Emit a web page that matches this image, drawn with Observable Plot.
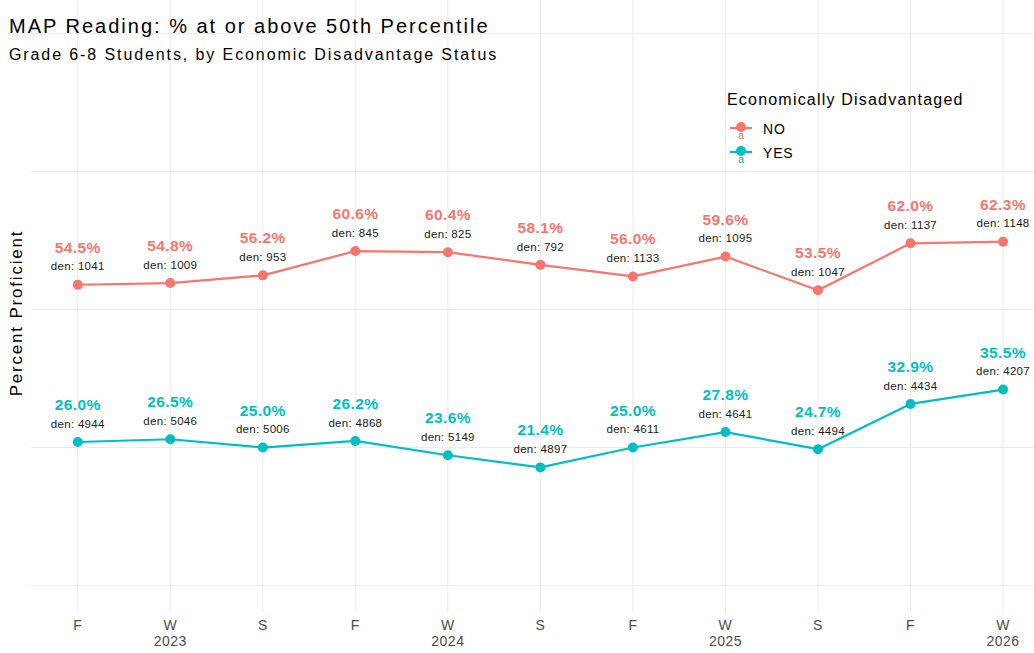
<!DOCTYPE html>
<html>
<head>
<meta charset="utf-8">
<script src="https://cdn.jsdelivr.net/npm/d3@7"></script>
<script src="https://cdn.jsdelivr.net/npm/@observablehq/plot@0.6"></script>
<style>
  body { margin: 0; background: #fff; font-family: "Liberation Sans", Arial, sans-serif; }
  #wrap { position: relative; width: 1034px; height: 653px; overflow: hidden; }
  #chart { position: absolute; left: 0; top: 0; }
  .title { position: absolute; left: 9px; top: 15px; font-size: 20px; letter-spacing: 2px; line-height: 23px; color: #000; white-space: nowrap; }
  .subtitle { position: absolute; left: 9px; top: 45px; font-size: 16px; letter-spacing: 1.9px; line-height: 19px; color: #000; white-space: nowrap; }
  .ylab { position: absolute; left: 17px; top: 313px; transform: translate(-50%, -50%) rotate(-90deg); font-size: 17px; letter-spacing: 1.8px; color: #000; white-space: nowrap; }
  .legend { position: absolute; left: 727px; top: 91px; }
  .legend .lt { font-size: 16px; letter-spacing: 1.2px; color: #000; white-space: nowrap; }
  .legend .row { position: relative; height: 24px; }
  .legend .row svg { position: absolute; left: 2px; top: 0; }
  .legend .row span { position: absolute; left: 36px; top: 5px; font-size: 14px; letter-spacing: 0.8px; color: #000; }
</style>
</head>
<body>
<div id="wrap">
  <div id="chart"></div>
  <div class="title">MAP Reading: % at or above 50th Percentile</div>
  <div class="subtitle">Grade 6-8 Students, by Economic Disadvantage Status</div>
  <div class="ylab">Percent Proficient</div>
  <div class="legend" id="legend"></div>
</div>
<script>
const terms = ["F","W","S","F","W","S","F","W","S","F","W"];
const years = ["","2023","","","2024","","","2025","","","2026"];
const groups = ["NO","YES"];
const groupColors = ["#F8766D","#00BFC4"];
const noPct  = [54.5,54.8,56.2,60.6,60.4,58.1,56.0,59.6,53.5,62.0,62.3];
const noDen  = [1041,1009,953,845,825,792,1133,1095,1047,1137,1148];
const yesPct = [26.0,26.5,25.0,26.2,23.6,21.4,25.0,27.8,24.7,32.9,35.5];
const yesDen = [4944,5046,5006,4868,5149,4897,4611,4641,4494,4434,4207];
const yTicks = [0,25,50,75,100];

const data = [];
terms.forEach((t,i) => {
  data.push({i, group:"NO", pct:noPct[i], den:noDen[i]});
  data.push({i, group:"YES", pct:yesPct[i], den:yesDen[i]});
});
const idx = terms.map((_,i)=>i);
const yearData = idx.filter(i => years[i] !== "");

const chart = Plot.plot({
  width: 1034,
  height: 653,
  marginLeft: 31,
  marginRight: 0,
  marginTop: 0,
  marginBottom: 41,
  style: {fontFamily: '"Liberation Sans", Arial, sans-serif', background: "transparent"},
  x: {type: "linear", domain: [-0.5, 10.34], axis: null, label: null},
  y: {domain: [-4.89, 106.0], axis: null, label: null},
  color: {domain: groups, range: groupColors},
  marks: [
    Plot.ruleY(yTicks, {y: d => d, stroke: "#ebebeb", strokeWidth: 1}),
    Plot.ruleX(idx, {x: d => d, stroke: "#ebebeb", strokeWidth: 1}),
    Plot.axisX({ticks: idx, tickFormat: d => terms[d], tickSize: 0, tickPadding: 8, fontSize: 14, fill: "#4d4d4d", color: "#4d4d4d", label: null}),
    Plot.text(yearData, {x: d => d, text: d => years[d], frameAnchor: "bottom", dy: 33, fontSize: 14, fill: "#4d4d4d"}),
    Plot.line(data, {x: "i", y: "pct", stroke: "group", z: "group", strokeWidth: 2.2}),
    Plot.dot(data, {x: "i", y: "pct", fill: "group", r: 5}),
    Plot.text(data, {x: "i", y: "pct", text: d => d.pct.toFixed(1) + "%", fill: "group", dy: -37, fontSize: 15.5, fontWeight: "bold"}),
    Plot.text(data, {x: "i", y: "pct", text: d => "den: " + d.den, fill: "#1a1a1a", dy: -18, fontSize: 11.5})
  ]
});
document.getElementById("chart").appendChild(chart);
chart.querySelectorAll("text").forEach(t => {
  const s = t.textContent;
  if (s.startsWith("den:")) t.style.letterSpacing = "0.3px";
  else if (/^\d{4}$/.test(s) || /^[FWS]$/.test(s)) t.style.letterSpacing = "0.5px";
  else if (s.endsWith("%")) t.style.letterSpacing = "0.4px";
});

// Legend
const leg = document.getElementById("legend");
let html = '<div class="lt">Economically Disadvantaged</div><div style="height:7px"></div>';
groups.forEach((g,k) => {
  const c = groupColors[k];
  html += `<div class="row"><svg width="30" height="24"><line x1="1" x2="23" y1="12" y2="12" stroke="${c}" stroke-width="2.2"/><circle cx="12" cy="11" r="5" fill="${c}"/><text x="12" y="23" text-anchor="middle" font-size="11" fill="${c}" font-family="Liberation Sans, Arial">a</text></svg><span>${g}</span></div>`;
});
leg.innerHTML = html;
</script>
</body>
</html>
